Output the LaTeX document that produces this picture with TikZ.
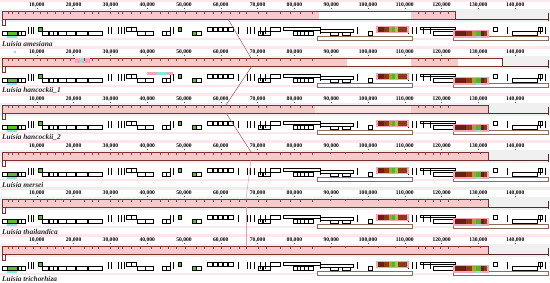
\documentclass[tikz,border=0pt]{standalone}
\usepackage{fontspec}
\setmainfont{Liberation Serif}
\definecolor{blkfill}{HTML}{F5CACA}
\definecolor{blkedge}{HTML}{7B3030}
\definecolor{profred}{HTML}{A83434}
\definecolor{cline}{HTML}{4A2E2E}
\definecolor{rrgreen}{HTML}{5CC02C}
\definecolor{revbrown}{HTML}{8A6C60}
\definecolor{lcbred}{HTML}{A84848}
\definecolor{lcbpink}{HTML}{E89AA8}
\definecolor{bandgrey}{HTML}{F0F0F0}
\definecolor{toppink}{HTML}{FBE8EC}
\definecolor{halo}{HTML}{F4A6B8}
\definecolor{cyanhl}{HTML}{86E6E2}
\definecolor{ca}{HTML}{6B1F0F}
\definecolor{cb}{HTML}{8B3A1A}
\definecolor{cc}{HTML}{B0A030}
\definecolor{cd}{HTML}{58B030}
\definecolor{ce}{HTML}{9AD040}
\tikzset{
  gb/.style={draw=black, fill=white, line width=0.35pt},
  gg/.style={draw=black, fill=rrgreen, line width=0.35pt},
  rv/.style={draw=revbrown, fill=white, line width=0.6pt},
  tb/.style={draw=black, line width=0.5pt},
  blockol/.style={draw=blkedge, line width=0.5pt},
  prof/.style={draw=profred, line width=0.45pt},
  ruler/.style={font=\fontsize{5.6}{6}\selectfont\bfseries, text=black, inner sep=0pt},
  genome/.style={font=\fontsize{7.4}{8}\selectfont\bfseries\itshape, anchor=west, inner sep=0pt, text=black!85},
  lcb/.style={draw=lcbred, line width=0.45pt},
  lcbp/.style={draw=lcbpink, line width=0.5pt},
}
\newcommand\commonpanel[1]{%
  \begin{scope}[shift={(0,#1)}]
    % backgrounds
    \fill[toppink] (0,-0.5) rectangle (550,2.5);
    \fill[bandgrey] (0,9) rectangle (550,22);
    \fill[toppink] (0,38.5) rectangle (550,40.5);
    % ruler
    \foreach \k in {1,...,14} {
      \pgfmathtruncatemacro\v{\k*10}
      \node[ruler] (r#1-\k) at (36.8*\k,5) {\v,000};
      \draw[black!70, line width=0.3pt] (36.8*\k,8.2) -- (36.8*\k,9.5);
    }
    % centre line
    \draw[cline, line width=0.6pt] (2,19) -- (548,19);
    \draw[cline, line width=0.5pt] (548,13) -- (548,21);
    \draw[blockol, fill=white] (2,19) rectangle (5,25.5);
    % genes: main row
    \foreach \a/\b in {2/7,18/21,21/25,42/48,49/53,53/57,58/66,66/75,76/87,88/102,137/145,145/153,162/166,166/170,196/201,433/453,512/537,368/372,258/262,263/270,293/297,297/300,300/304,304/308,308/313,330/338,342/350}
      \draw[gb] (\a,31.5) rectangle (\b,35.5);
    \fill[cyanhl] (7,35.5) rectangle (17,38);
    \foreach \a/\b in {7/17,192/196}
      \draw[gg] (\a,31.5) rectangle (\b,35.5);
    % upper row
    \foreach \a/\b in {207/212,213/217,218/222,223/227,228/233,126/131,131/136,270/280,493/497,538/542}
      \draw[gb] (\a,27) rectangle (\b,31);
    \foreach \a/\b in {38/42,178/181}
      \draw[gg] (\a,27) rectangle (\b,31);
    \draw[gb] (283,27.5) rectangle (320,30.5);
    \draw[gb] (320,29) rectangle (353,32);
    \draw[gb] (420,27) rectangle (455,29);
    % bars
    \foreach \t in {28,31,33,108,111,118,121,124,170,173,238,247,250,254,260,265,320,357,408,412,416,423,430,455,507,540,545}
      \draw[tb] (\t,27.5) -- (\t,34);
    % lower (reverse) row
    \draw[rv] (317,36.5) rectangle (412,40);
    \draw[rv] (453,36.5) rectangle (548,40);
    % cluster A
    \fill[halo] (376,26) rectangle (409,33);
    \fill[ca] (378,27) rectangle (384,32);
    \fill[cb] (384,27) rectangle (389,32);
    \fill[cc] (389,27) rectangle (392,32);
    \fill[cd] (392,27) rectangle (395,32);
    \fill[ce] (395,27) rectangle (398,32);
    \fill[cb] (398,27) rectangle (407,32);
    % cluster B
    \fill[halo] (453,30) rectangle (489,38);
    \fill[cyanhl] (476,35.5) rectangle (481,38);
    \fill[ca] (455,31) rectangle (466,36);
    \fill[cb] (466,31) rectangle (472,36);
    \fill[cc] (472,31) rectangle (476,36);
    \fill[cd] (476,31) rectangle (481,36);
    \fill[ca] (481,31) rectangle (484,36);
    \fill[cb] (484,31) rectangle (487,36);
  \end{scope}}
\newcommand\profile[1]{%
  \begin{scope}[shift={(0,#1)}]
    \foreach \t in {8,12,18,25,33,40,47,55,63,70,84,92,98,110,118,122,131,140,151,160,168,176,185,196,204,213,221,230,239,246,258,266,280,290,300,312,418,425,433,440,448}
      \draw[prof] (\t,11.5) -- (\t,14);
  \end{scope}}
\newcommand\profilefull[1]{%
  \begin{scope}[shift={(0,#1)}]
    \foreach \t in {330,345,362,378,395,406,458,470,480}
      \draw[prof] (\t,11.5) -- (\t,13.5);
  \end{scope}}
\begin{document}
\begin{tikzpicture}[x=1pt,y=-1pt]
\useasboundingbox (0,0) rectangle (550,283);
\fill[white] (0,0) rectangle (550,283);
\foreach \yo in {0,47,94,141,188,235} {\commonpanel{\yo}}
% panel 1
\draw[blockol, fill=white] (2,11) rectangle (455,19);
\fill[blkfill] (2.3,11.3) rectangle (319,18.7);
\fill[blkfill] (411,11.3) rectangle (454.7,18.7);
\draw[blockol] (2,11) rectangle (455,19);
\profile{0}
% panel 2
\draw[blockol, fill=white] (2,58) rectangle (502,66);
\fill[blkfill] (2.3,58.3) rectangle (347,65.7);
\fill[blkfill] (411,58.3) rectangle (458,65.7);
\draw[blockol] (2,58) rectangle (502,66);
\fill[halo] (75,58.5) rectangle (90,63);
\fill[cyanhl] (80,58.5) rectangle (83,63);
\fill[halo] (147,72) rectangle (173,75.5);
\fill[cyanhl] (157,72) rectangle (167,75.5);
\fill[cyanhl] (14,51.5) rectangle (16,53.5);
\profile{47}
% panel 3
\draw[blockol, fill=blkfill!55] (2,105) rectangle (488,113);
\fill[blkfill] (2.3,105.3) rectangle (315,112.7);
\fill[blkfill] (411,105.3) rectangle (487.7,112.7);
\draw[blockol] (2,105) rectangle (488,113);
\profile{94}
% panels 4-6
\foreach \yo in {141,188,235} {
  \draw[blockol, fill=blkfill] (2,\yo+11) rectangle (488,\yo+19);
  \profile{\yo}
  \profilefull{\yo}
}
% genome labels
\node[genome] (g1) at (2,43.5) {Luisia amesiana};
\node[genome] (g2) at (2,90.5) {Luisia hancockii\_1};
\node[genome] (g3) at (2,137.5) {Luisia hancockii\_2};
\node[genome] (g4) at (2,184.5) {Luisia mersei};
\node[genome] (g5) at (2,231.5) {Luisia thailandica};
\node[genome] (g6) at (2,278.5) {Luisia trichorhiza};
% LCB connectors
\coordinate (c1a) at (228,19);  \coordinate (c1b) at (251,58);
\coordinate (c2a) at (252,66);  \coordinate (c2b) at (226,105);
\coordinate (c3a) at (226,113); \coordinate (c3b) at (251,152);
\coordinate (c4a) at (251,160); \coordinate (c4b) at (246,199);
\coordinate (c5a) at (246,207); \coordinate (c5b) at (246,246);
\draw[lcb] (c1a) -- (c1b);
\draw[lcb] (c2a) -- (c2b);
\draw[lcb] (c3a) -- (c3b);
\draw[lcbp] (c4a) -- (c4b);
\draw[lcbp] (c5a) -- (c5b);
\end{tikzpicture}
\end{document}
